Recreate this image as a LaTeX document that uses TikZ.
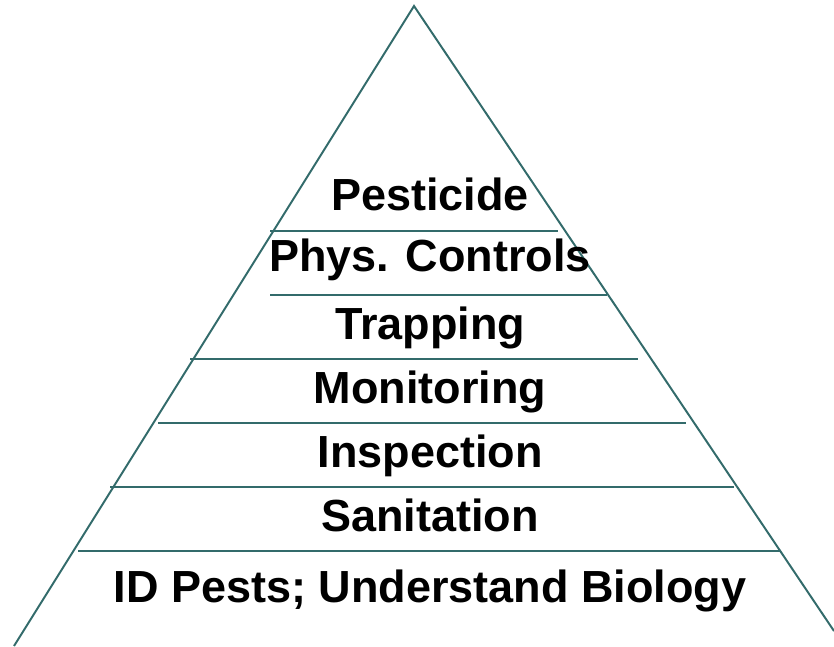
\documentclass[tikz,border=0pt]{standalone}
\usepackage{fontspec}
\setmainfont{Liberation Sans}
\definecolor{tealline}{RGB}{51,107,107}
\tikzset{
    layer/.style={font=\fontsize{32}{38}\selectfont\bfseries, anchor=base, inner sep=0pt},
    rung/.style={tealline, line width=1.4pt}
}
\begin{document}
\begin{tikzpicture}[x=0.025cm, y=-0.025cm]
        \useasboundingbox (0,0) rectangle (834,646);
        % define point
        \coordinate (T)  at (414, 6);
        \coordinate (L)  at (14, 646);
        \coordinate (R)  at (834, 631);
        % sides
        \draw[rung] (L) -- (T) -- (R);
        % layer lines
        \draw[rung] (270,231) -- (558,231);
        \draw[rung] (270,295) -- (607,295);
        \draw[rung] (190,359) -- (638,359);
        \draw[rung] (158,423) -- (686,423);
        \draw[rung] (110,487) -- (734,487);
        \draw[rung] (78,551)  -- (780,551);
        % labels
        \node[layer] (pest)  at (430,210) {Pesticide};
        \node[layer] (phys)  at (430,271) {Phys. Controls};
        \node[layer] (trap)  at (430,339) {Trapping};
        \node[layer] (moni)  at (430,403) {Monitoring};
        \node[layer] (insp)  at (430,467) {Inspection};
        \node[layer] (sani)  at (430,531) {Sanitation};
        \node[layer] (idbio) at (430,602) {ID Pests; Understand Biology};
    \end{tikzpicture}
\end{document}
